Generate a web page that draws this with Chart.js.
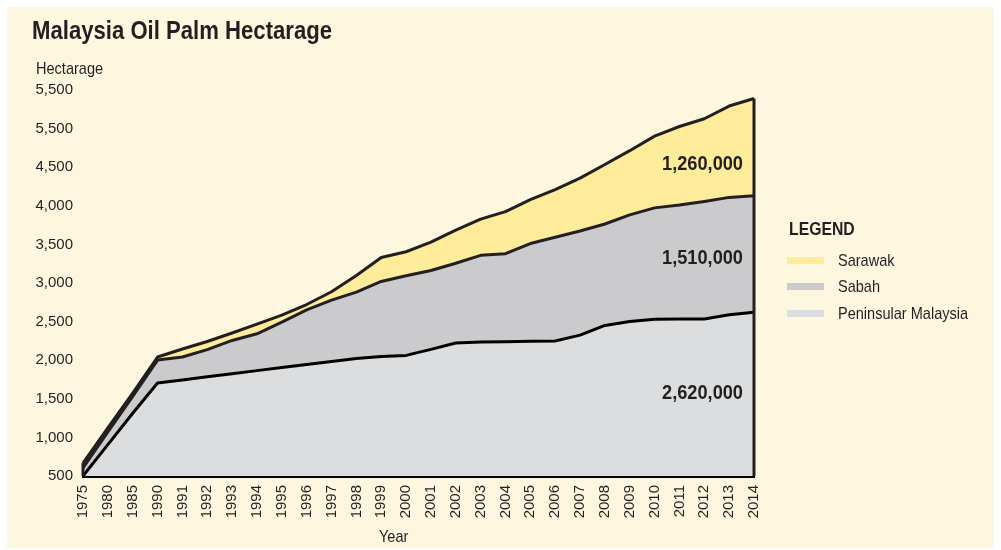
<!DOCTYPE html>
<html>
<head>
<meta charset="utf-8">
<script src="https://cdn.jsdelivr.net/npm/chart.js@4.4.1/dist/chart.umd.min.js"></script>
<style>
  html, body { margin: 0; padding: 0; background: #ffffff; }
  body { width: 1001px; height: 550px; position: relative; overflow: hidden;
         font-family: "Liberation Sans", Arial, sans-serif; color: #231f20; }
  #bg { position: absolute; left: 7px; top: 7px; width: 987px; height: 541px; background: #fef7e0; }
  #chartWrap { position: absolute; left: 0; top: 0; width: 1001px; height: 550px; }
  .t { position: absolute; white-space: nowrap; line-height: 1; transform-origin: 0 50%; }
  #title { left: 32px; top: 18px; font-size: 25px; font-weight: bold; transform: scaleX(0.885); }
  #ytitle { left: 36px; top: 60px; font-size: 17px; transform: scaleX(0.855); }
  #xtitle { left: 379px; top: 528px; font-size: 17px; transform: scaleX(0.855); }
  #legTitle { left: 789px; top: 219px; font-size: 19px; font-weight: bold; transform: scaleX(0.83); }
  .sw { position: absolute; left: 787px; width: 37px; height: 7px; }
  .lab { left: 838px; font-size: 17px; transform: scaleX(0.855); }
  .ann { font-size: 20px; font-weight: bold; text-align: right; width: 140px; left: 603px;
         transform-origin: 100% 50%; transform: scaleX(0.91); }
</style>
</head>
<body>
<div id="bg"></div>
<div id="chartWrap"><canvas id="c" width="1001" height="550"></canvas></div>
<div class="t" id="title">Malaysia Oil Palm Hectarage</div>
<div class="t" id="ytitle">Hectarage</div>
<div class="t" id="xtitle">Year</div>
<div class="t" id="legTitle">LEGEND</div>
<div id="legend"></div>
<div id="anns"></div>
<script>
// ---- data (thousand hectares) ----
const years = ['1975','1980','1985','1990','1991','1992','1993','1994','1995','1996','1997','1998','1999',
  '2000','2001','2002','2003','2004','2005','2006','2007','2008','2009','2010','2011','2012','2013','2014'];
const peninsular = [500, 907, 1313, 1705, 1743, 1785, 1825, 1865, 1905, 1945, 1984, 2023, 2048,
  2062, 2140, 2223, 2236, 2240, 2244, 2248, 2325, 2450, 2501, 2531, 2533, 2533, 2588, 2620];
const sabah = [104, 163, 217, 297, 298, 352, 431, 477, 587, 706, 794, 859, 972,
  1032, 1022, 1033, 1122, 1140, 1267, 1344, 1348, 1314, 1381, 1442, 1477, 1523, 1521, 1510];
const sarawak = [64, 52, 45, 39, 104, 105, 96, 126, 93, 70, 109, 215, 311,
  311, 368, 430, 470, 545, 569, 618, 686, 771, 832, 930, 1017, 1072, 1183, 1260];
const yTickLabels = ['500','1,000','1,500','2,000','2,500','3,000','3,500','4,000','4,500','5,500','5,500'];
const seriesNames = ['Peninsular Malaysia', 'Sabah', 'Sarawak'];
const seriesColors = ['#dcdddf', '#cbcbcd', '#feec9a'];
const totalLabels = ['2,620,000', '1,510,000', '1,260,000'];

const FONT = '"Liberation Sans", Arial, sans-serif';
const INK = '#231f20';

// vertical outlines at first/last category, from stack top down to the baseline
const edgePlugin = {
  id: 'edges',
  afterDatasetsDraw(chart) {
    const ctx = chart.ctx;
    const topMeta = chart.getDatasetMeta(2);
    const yBase = chart.scales.y.getPixelForValue(chart.scales.y.min);
    ctx.save();
    ctx.strokeStyle = INK;
    ctx.lineWidth = 3;
    [0, years.length - 1].forEach(i => {
      const p = topMeta.data[i];
      ctx.beginPath();
      ctx.moveTo(p.x, p.y);
      ctx.lineTo(p.x, yBase);
      ctx.stroke();
    });
    ctx.restore();
  }
};

const ds = [peninsular, sabah, sarawak].map((arr, i) => ({
  label: seriesNames[i],
  data: arr,
  backgroundColor: seriesColors[i],
  borderColor: i === 0 ? '#000000' : INK,
  borderWidth: 3,
  pointRadius: 0,
  tension: 0,
  fill: i === 0 ? 'origin' : '-1',
  borderJoinStyle: 'round'
}));

new Chart(document.getElementById('c'), {
  type: 'line',
  data: { labels: years, datasets: ds },
  options: {
    responsive: false,
    animation: false,
    devicePixelRatio: 1,
    layout: { padding: { left: 0, top: 90, right: 247, bottom: 0 } },
    plugins: { legend: { display: false }, title: { display: false }, tooltip: { enabled: false } },
    scales: {
      x: {
        offset: false,
        z: 1,
        grid: { display: false, drawTicks: false },
        border: { display: true, color: '#000000', width: 3 },
        ticks: { autoSkip: false, minRotation: 90, maxRotation: 90, padding: 9,
                 color: INK, font: { family: FONT, size: 15 } },
        afterFit(s) { s.height = 74; }
      },
      y: {
        stacked: true,
        min: 500, max: 5500,
        grid: { display: false, drawTicks: false },
        border: { display: false },
        ticks: { stepSize: 500, padding: 10, color: INK, font: { family: FONT, size: 15 },
                 callback: (v, i) => yTickLabels[i] },
        afterFit(s) { s.width = 83; }
      }
    }
  },
  plugins: [edgePlugin]
});

// legend (Sarawak, Sabah, Peninsular)
const legend = document.getElementById('legend');
const legY = [260, 286, 313];
[2, 1, 0].forEach((si, k) => {
  const sw = document.createElement('div');
  sw.className = 'sw';
  sw.style.top = (legY[k] - 3.5) + 'px';
  sw.style.background = seriesColors[si];
  legend.appendChild(sw);
  const lb = document.createElement('div');
  lb.className = 't lab';
  lb.style.top = (legY[k] - 8.3) + 'px';
  lb.textContent = seriesNames[si];
  legend.appendChild(lb);
});

// value annotations
const annY = [392, 257, 163];
const anns = document.getElementById('anns');
totalLabels.forEach((txt, i) => {
  const d = document.createElement('div');
  d.className = 't ann';
  d.style.top = (annY[i] - 9.8) + 'px';
  d.textContent = txt;
  anns.appendChild(d);
});
</script>
</body>
</html>
